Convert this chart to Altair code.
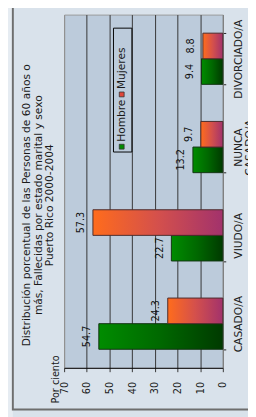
import altair as alt
import pandas as pd

# ---- data ----
categorias = ["CASADO/A", "VIUDO/A", "NUNCA CASADO/A", "DIVORCIADO/A"]
hombre = [54.7, 22.7, 13.2, 9.4]
mujeres = [24.3, 57.3, 9.7, 8.8]
sexos = ["Hombre", "Mujeres"]
titulo = [
    "Distribución porcentual de las Personas de 60 años o",
    "más, Fallecidas por estado marital y sexo",
    "Puerto Rico 2000-2004",
]
eje_titulo = "Por ciento"
ticks = [0, 10, 20, 30, 40, 50, 60, 70]

rows = []
for c, h, m in zip(categorias, hombre, mujeres):
    rows.append({"estado": c, "sexo": "Hombre", "pct": h})
    rows.append({"estado": c, "sexo": "Mujeres", "pct": m})
df = pd.DataFrame(rows)

FONT = "DejaVu Sans"
TXT = "#1a1a1a"
PLOT_BG = "#bccbdb"
W, H = 164, 365
orden_y = list(reversed(categorias))

x_scale = alt.Scale(domain=[0, 70], reverse=True, nice=False, zero=True)
y_scale = alt.Scale(domain=orden_y, paddingInner=0.42, paddingOuter=0.21)
off_scale = alt.Scale(domain=["Mujeres", "Hombre"], paddingInner=0, paddingOuter=0)

x_axis = alt.Axis(
    values=ticks, orient="bottom", labelAngle=270, labelAlign="right",
    labelBaseline="middle", labelPadding=10, labelFont=FONT, labelFontSize=10,
    labelColor=TXT, labelFlush=False, labelOverlap=False,
    tickSize=4, tickColor="#333333", domainColor="#000000", domainWidth=1,
    grid=True,
    gridColor={"condition": {"test": "datum.value === 0 || datum.value === 70",
                             "value": "#8f8f8f"}, "value": "#333333"},
    gridOpacity=1, gridWidth=1,
    title=eje_titulo, titleAngle=270, titleX=-9, titleY=11.5,
    titleAlign="center", titleBaseline="middle", titleFont=FONT,
    titleFontSize=10, titleFontWeight="normal", titleColor=TXT,
)
y_axis = alt.Axis(
    orient="right", title=None, labelAngle=270, labelAlign="center",
    labelBaseline="top", labelPadding=7, tickSize=3, tickBand="extent",
    tickColor="#222222", domainColor="#7a7a7a", labelFont=FONT,
    labelFontSize=11, labelColor="#222222", labelExpr="split(datum.label, ' ')",
    labelLineHeight=12, grid=False, labelOverlap=False,
)

base = alt.Chart(df).encode(
    x=alt.X("pct:Q", scale=x_scale, axis=x_axis),
    y=alt.Y("estado:N", scale=y_scale, sort=orden_y, axis=y_axis),
    yOffset=alt.YOffset("sexo:N", scale=off_scale),
)

grad_h = alt.Gradient(gradient="linear", x1=0, x2=1, y1=0, y2=0, stops=[
    alt.GradientStop(color="#008c00", offset=0),
    alt.GradientStop(color="#006800", offset=0.5),
    alt.GradientStop(color="#003a00", offset=1)])
grad_m = alt.Gradient(gradient="linear", x1=0, x2=1, y1=0, y2=0, stops=[
    alt.GradientStop(color="#ff6c1c", offset=0),
    alt.GradientStop(color="#d4504c", offset=0.5),
    alt.GradientStop(color="#a2326c", offset=1)])

bars_h = base.transform_filter("datum.sexo == 'Hombre'").mark_bar(
    fill=grad_h, stroke="#123312", strokeWidth=1)
bars_m = base.transform_filter("datum.sexo == 'Mujeres'").mark_bar(
    fill=grad_m, stroke="#4a2a2a", strokeWidth=1)
labels = base.mark_text(angle=270, align="center", baseline="middle", dy=-12,
                        font=FONT, fontSize=10, color="#111111").encode(
    text=alt.Text("pct:Q", format=".1f"))

dummy = pd.DataFrame({"k": [0]})
edge = alt.Chart(dummy).mark_rect(fill="#e6ecf2").encode(
    x=alt.value(-58), x2=alt.value(-53), y=alt.value(-10), y2=alt.value(420))
frame = alt.Chart(dummy).mark_rect(fillOpacity=0, stroke="#6e6e6e", strokeWidth=2).encode(
    x=alt.value(-53), x2=alt.value(240), y=alt.value(-30), y2=alt.value(408))

# legend (decoration)
leg_box = alt.Chart(dummy).mark_rect(fill=PLOT_BG, stroke="#000000", strokeWidth=1).encode(
    x=alt.value(51), x2=alt.value(70), y=alt.value(14), y2=alt.value(142))
leg_sq_h = alt.Chart(dummy).mark_rect(fill="#008a00", stroke="#333333", strokeWidth=0.8).encode(
    x=alt.value(57), x2=alt.value(62), y=alt.value(134), y2=alt.value(139))
leg_sq_m = alt.Chart(dummy).mark_rect(fill="#e0463a", stroke="#333333", strokeWidth=0.8).encode(
    x=alt.value(57), x2=alt.value(62), y=alt.value(80), y2=alt.value(85))
leg_txt_h = alt.Chart(dummy).mark_text(angle=270, align="left", baseline="middle",
                                       font=FONT, fontSize=11, color=TXT).encode(
    x=alt.value(59.5), y=alt.value(131.5), text=alt.value(sexos[0]))
leg_txt_m = alt.Chart(dummy).mark_text(angle=270, align="left", baseline="middle",
                                       font=FONT, fontSize=11, color=TXT).encode(
    x=alt.value(59.5), y=alt.value(77), text=alt.value(sexos[1]))

title_layers = []
for i, line in enumerate(titulo):
    title_layers.append(
        alt.Chart(dummy).mark_text(angle=270, align="center", baseline="middle",
                                   font=FONT, fontSize=11, color=TXT).encode(
            x=alt.value(-38 + 12 * i), y=alt.value(197), text=alt.value(line)))

chart = alt.layer(
    edge, frame, bars_h, bars_m, labels, leg_box, leg_sq_h, leg_sq_m, leg_txt_h, leg_txt_m,
    *title_layers
).properties(
    width=W, height=H,
    autosize=alt.AutoSizeParams(type="none"),
    padding={"left": 58, "top": 0, "right": 26, "bottom": 44},
    background="#d9e2eb",
).configure_view(
    fill=PLOT_BG, stroke="#9a9a9a", strokeWidth=1,
)

chart.save("out.html", embed_options={"renderer": "svg", "actions": False})
